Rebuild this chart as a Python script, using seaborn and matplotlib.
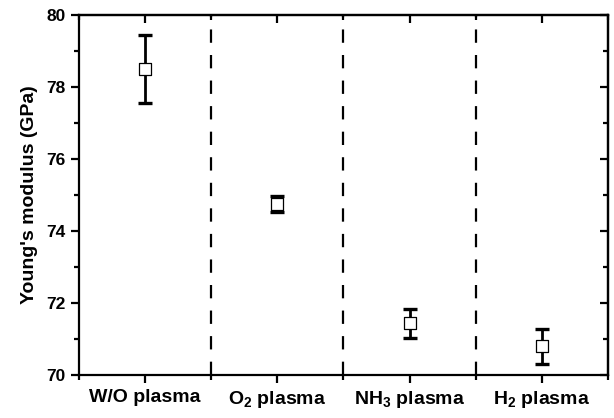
import matplotlib
matplotlib.use("Agg")
import matplotlib.pyplot as plt
import seaborn as sns
import pandas as pd
from matplotlib.ticker import MultipleLocator

# données
categories = ["W/O plasma", "O$_2$ plasma", "NH$_3$ plasma", "H$_2$ plasma"]
modulus = [78.5, 74.75, 71.44, 70.8]
erreur = [0.95, 0.23, 0.40, 0.49]

sns.set_style("ticks")
plt.rcParams['font.family'] = ['Liberation Sans', 'DejaVu Sans']
plt.rcParams['font.weight'] = 'bold'
plt.rcParams['mathtext.fontset'] = 'custom'
plt.rcParams['mathtext.rm'] = 'Liberation Sans:bold'
plt.rcParams['mathtext.bf'] = 'Liberation Sans:bold'
plt.rcParams['mathtext.default'] = 'bf'
for k in ['text.color', 'axes.labelcolor', 'xtick.color', 'ytick.color', 'axes.edgecolor']:
    plt.rcParams[k] = 'black'

df = pd.DataFrame({'traitement': categories, 'E': modulus, 'err': erreur})

fig = plt.figure(figsize=(6.14, 4.18), dpi=100)
ax = fig.add_axes([0.1287, 0.1029, 0.8613, 0.8611])

x = list(range(len(categories)))
ax.errorbar(x, df['E'], yerr=df['err'], fmt='none', ecolor='black',
            elinewidth=2.0, capsize=5, capthick=2.4, zorder=2)
sns.scatterplot(data=df, x='traitement', y='E', marker='s', s=65,
                facecolor='white', edgecolor='black', linewidth=0.9,
                ax=ax, zorder=3, legend=False)

# séparateurs verticaux
for b in [0.5, 1.5, 2.5]:
    ax.axvline(b, color='black', lw=1.6, dashes=(6, 5.5), zorder=1)

ax.set_xlim(-0.5, 3.5)
ax.set_ylim(70, 80)
ax.set_xticks(x)
ax.set_xticklabels(categories, fontsize=14, fontweight='bold')
ax.xaxis.set_minor_locator(MultipleLocator(0.5))
ax.yaxis.set_major_locator(MultipleLocator(2))
ax.yaxis.set_minor_locator(MultipleLocator(1))
ax.set_xlabel("")
ax.set_ylabel("Young's modulus (GPa)", fontsize=14, fontweight='bold', labelpad=6)
ax.tick_params(axis='y', which='major', labelsize=12.5, width=1.6, length=6, direction='out')
ax.tick_params(axis='y', which='minor', width=1.6, length=3.5, direction='out')
ax.tick_params(axis='x', which='major', width=1.6, length=6, direction='out', pad=4)
ax.tick_params(axis='x', which='minor', width=1.6, length=3.5, direction='out')
for lab in ax.get_yticklabels():
    lab.set_fontweight('bold')

# ticks intérieurs sur les axes haut et droit
ax2 = ax.secondary_yaxis('right')
ax2.yaxis.set_major_locator(MultipleLocator(2))
ax2.yaxis.set_minor_locator(MultipleLocator(1))
ax2.tick_params(which='major', direction='in', length=6, width=1.6, labelright=False)
ax2.tick_params(which='minor', direction='in', length=3.5, width=1.6)
ax2.spines['right'].set_linewidth(1.6)
ax3 = ax.secondary_xaxis('top')
ax3.set_xticks(x)
ax3.xaxis.set_minor_locator(MultipleLocator(0.5))
ax3.tick_params(which='major', direction='in', length=6, width=1.6, labeltop=False)
ax3.tick_params(which='minor', direction='in', length=3.5, width=1.6)
ax3.spines['top'].set_linewidth(1.6)

for s in ax.spines.values():
    s.set_linewidth(1.6)
    s.set_visible(True)

fig.savefig("out.png", dpi=100)
